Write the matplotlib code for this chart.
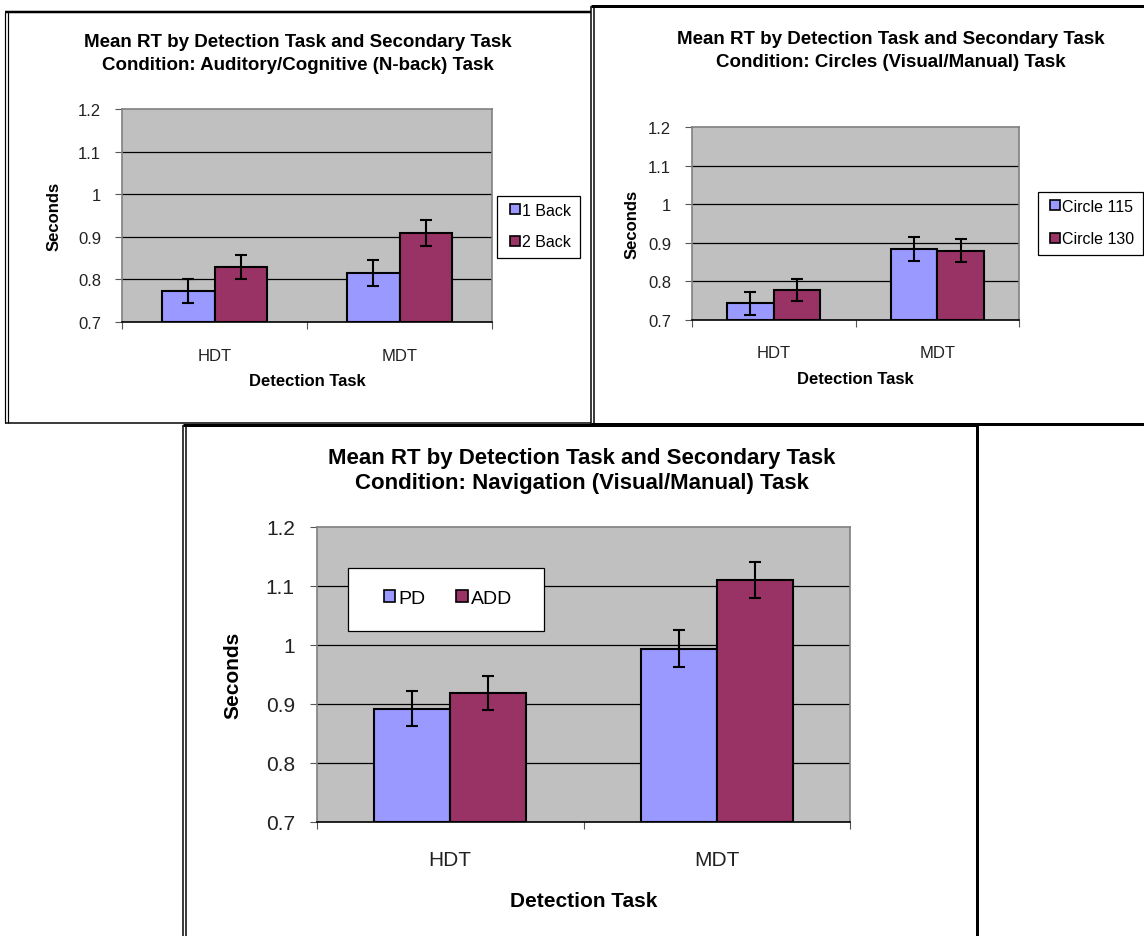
import numpy as np
import matplotlib
matplotlib.use('Agg')
import matplotlib.pyplot as plt
from matplotlib.lines import Line2D
from matplotlib.patches import Rectangle, Patch

plt.rcParams['font.family'] = ['Liberation Sans', 'DejaVu Sans']

# data
cats = ['HDT', 'MDT']

nback_labels = ['1 Back', '2 Back']
nback_mean = [[0.773, 0.815], [0.830, 0.909]]
nback_err = [[0.028, 0.031], [0.028, 0.031]]

circle_labels = ['Circle 115', 'Circle 130']
circle_mean = [[0.743, 0.884], [0.778, 0.879]]
circle_err = [[0.029, 0.030], [0.028, 0.030]]

nav_labels = ['PD', 'ADD']
nav_mean = [[0.892, 0.994], [0.918, 1.110]]
nav_err = [[0.030, 0.032], [0.029, 0.031]]

yticks = [0.7, 0.8, 0.9, 1.0, 1.1, 1.2]
ytick_labels = ['0.7', '0.8', '0.9', '1', '1.1', '1.2']

colors = ['#9999FF', '#993366']
W, H = 1144, 937

fig = plt.figure(figsize=(W/100, H/100), dpi=100)


def fx(px):
    return px/W


def fy(py):
    return 1 - py/H


def hline(x0, x1, y, lw, c='black'):
    fig.add_artist(Line2D([fx(x0), fx(x1)], [fy(y), fy(y)], lw=lw*0.72, color=c, solid_capstyle='butt'))


def vline(x, y0, y1, lw, c='black'):
    fig.add_artist(Line2D([fx(x), fx(x)], [fy(y0), fy(y1)], lw=lw*0.72, color=c, solid_capstyle='butt'))


def panel(box, labels, means, errs, fs, tfs, title, title_y, title_x, ylab_x, xlab_y,
          tickpad, catpad, tls):
    x0, y0, x1, y1 = box
    ax = fig.add_axes([fx(x0), fy(y1), fx(x1) - fx(x0), (y1 - y0)/H])
    ax.set_facecolor('#C0C0C0')
    bw = 1/3.5
    x = np.arange(len(cats))
    for i in range(2):
        ax.bar(x + (i - 0.5)*bw, np.array(means[i]) - 0.7, bw, bottom=0.7, color=colors[i],
               edgecolor='black', linewidth=1.5, zorder=3, label=labels[i])
        ax.errorbar(x + (i - 0.5)*bw, means[i], yerr=errs[i], fmt='none', ecolor='black',
                    elinewidth=1.5, capsize=4, capthick=1.5, zorder=4)
    ax.set_xlim(-0.5, 1.5)
    ax.set_ylim(0.7, 1.2)
    for v in yticks[1:-1]:
        ax.axhline(v, color='black', lw=0.9, zorder=1)
    ax.set_yticks(yticks)
    ax.set_yticklabels(ytick_labels, fontsize=fs, color='#222222')
    ax.tick_params(axis='y', length=5, width=0.8, color='#555555', pad=tickpad)
    ax.set_xticks(x)
    ax.set_xticklabels(cats, fontsize=fs, color='#222222')
    ax.set_xticks([-0.5, 0.5, 1.5], minor=True)
    ax.tick_params(axis='x', which='major', length=0, pad=catpad)
    ax.tick_params(axis='x', which='minor', length=5, width=0.8, color='#555555')
    for s in ['left', 'top', 'right']:
        ax.spines[s].set_color('#808080')
        ax.spines[s].set_linewidth(1.2)
    ax.spines['bottom'].set_color('black')
    ax.spines['bottom'].set_linewidth(1.2)
    fig.text(fx(title_x), fy(title_y), title, ha='center', va='center', fontsize=tfs,
             fontweight='bold', linespacing=tls)
    fig.text(fx(ylab_x), fy((y0 + y1)/2), 'Seconds', rotation=90, ha='center', va='center',
             fontsize=fs, fontweight='bold')
    fig.text(fx((x0 + x1)/2), fy(xlab_y), 'Detection Task', ha='center', va='center',
             fontsize=fs, fontweight='bold')
    return ax


def legend_box(labels, rect, fs, ncol, lspace):
    lx0, ly0, lx1, ly1 = rect
    fig.add_artist(Rectangle((fx(lx0), fy(ly1)), fx(lx1) - fx(lx0), (ly1 - ly0)/H,
                             facecolor='white', edgecolor='black', lw=0.9, zorder=4))
    handles = [Patch(facecolor=colors[i], edgecolor='black', lw=1.2) for i in range(2)]
    leg = fig.legend(handles, labels, loc='center',
                     bbox_to_anchor=(fx((lx0 + lx1)/2 + 2), fy((ly0 + ly1)/2 - 1)),
                     frameon=False, fontsize=fs, ncol=ncol,
                     handlelength=0.6, handleheight=0.6, handletextpad=0.15,
                     columnspacing=1.6, labelspacing=lspace)
    leg.set_zorder(5)


ax1 = panel((122, 110, 492, 323), nback_labels, nback_mean, nback_err, 12, 13.5,
            'Mean RT by Detection Task and Secondary Task\nCondition: Auditory/Cognitive (N-back) Task',
            54, 298, 54, 381, 10, 19, 1.45)
legend_box(nback_labels, (497, 197, 580, 259), 11.5, 1, 1.05)

ax2 = panel((692, 128, 1019, 321), circle_labels, circle_mean, circle_err, 12, 13.5,
            'Mean RT by Detection Task and Secondary Task\nCondition: Circles (Visual/Manual) Task',
            51, 891, 632, 380, 10, 18, 1.45)
legend_box(circle_labels, (1038, 193, 1143, 256), 11.5, 1, 1.1)

ax3 = panel((317, 528, 850, 823), nav_labels, nav_mean, nav_err, 15, 16,
            'Mean RT by Detection Task and Secondary Task\nCondition: Navigation (Visual/Manual) Task',
            471, 582, 233, 902, 11, 20, 1.3)
legend_box(nav_labels, (348, 569, 544, 632), 14, 2, 0.8)

# chart frames
hline(5, 591, 13, 2.5)
vline(5, 13, 424, 1.2)
vline(8, 13, 424, 1.2)
hline(5, 591, 424, 1.5)

hline(591, 1144, 7, 3)
vline(591, 7, 425, 1.5)
vline(594, 7, 425, 1.5)
hline(591, 1144, 425, 3)

hline(183, 978, 426, 3)
vline(183, 426, 937, 1.5)
vline(186, 426, 937, 1.5)
vline(977, 426, 937, 3)

fig.savefig('out.png', dpi=100)
